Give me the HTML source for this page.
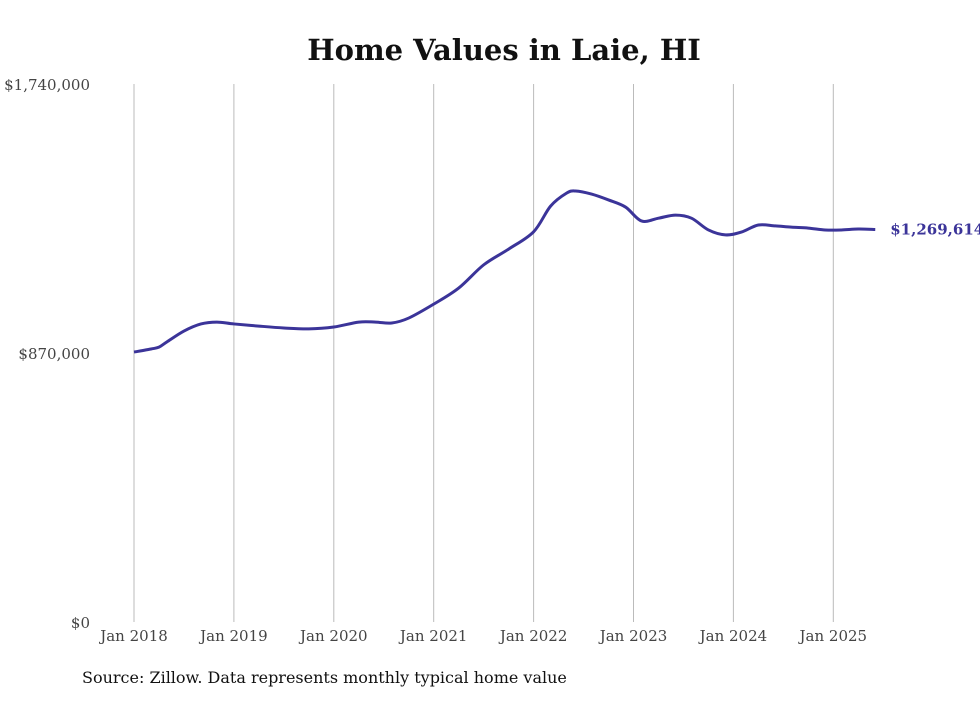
<!DOCTYPE html>
<html><head><meta charset="utf-8"><style>
body{margin:0;background:#fff;width:980px;height:699px;overflow:hidden;font-family:"DejaVu Serif","Liberation Serif",serif}
</style></head><body>
<svg width="980" height="699">
<text x="504" y="60" text-anchor="middle" font-size="29" font-weight="bold" fill="#111">Home Values in Laie, HI</text>
<g id="grid"></g><g id="ylab"></g><g id="xlab"></g>
<path id="line" fill="none" stroke="#3b3499" stroke-width="3" stroke-linejoin="round"/>
<text id="endlab" font-size="15" font-weight="bold" fill="#3b3499"></text>
<text x="82" y="683" font-size="16" fill="#111">Source: Zillow. Data represents monthly typical home value</text>
</svg>
<script>
const dates=[2018.0,2018.17,2018.25,2018.33,2018.5,2018.67,2018.83,2019.0,2019.25,2019.5,2019.75,2020.0,2020.25,2020.42,2020.58,2020.75,2021.0,2021.25,2021.5,2021.75,2022.0,2022.17,2022.33,2022.42,2022.58,2022.75,2022.92,2023.08,2023.25,2023.42,2023.58,2023.75,2023.92,2024.08,2024.25,2024.42,2024.58,2024.75,2024.92,2025.08,2025.25,2025.42];
const values=[873000,883000,889000,906000,941000,964000,970000,964000,957000,951000,948000,954000,970000,970000,967000,983000,1028000,1080000,1155000,1206000,1262000,1345000,1387000,1394000,1384000,1365000,1342000,1297000,1306000,1316000,1306000,1268000,1252000,1261000,1284000,1281000,1277000,1274000,1268000,1268000,1271000,1269614];
const yTicks=[0,870000,1740000];
const yTickLabels=["$0","$870,000","$1,740,000"];
const xTicks=[2018,2019,2020,2021,2022,2023,2024,2025];
const xTickLabels=["Jan 2018","Jan 2019","Jan 2020","Jan 2021","Jan 2022","Jan 2023","Jan 2024","Jan 2025"];
const X=d=>134+(d-2018)*99.9, Y=v=>622-v/1740000*538;
const NS="http://www.w3.org/2000/svg";
const grid=document.getElementById('grid'),xl=document.getElementById('xlab'),yl=document.getElementById('ylab');
xTicks.forEach((t,i)=>{
 const l=document.createElementNS(NS,'line');
 
 
 l.setAttribute('x1',X(t));l.setAttribute('x2',X(t));l.setAttribute('y1',84);l.setAttribute('y2',622);
 l.setAttribute('stroke','#bbb');l.setAttribute('stroke-width','1');grid.appendChild(l);
 const tx=document.createElementNS(NS,'text');
 
 
 tx.setAttribute('x',X(t));tx.setAttribute('y',641);tx.setAttribute('text-anchor','middle');
 tx.setAttribute('font-size','15');tx.setAttribute('fill','#444');tx.textContent=xTickLabels[i];xl.appendChild(tx);
});
yTicks.forEach((t,i)=>{
 const tx=document.createElementNS(NS,'text');
 
 
 tx.setAttribute('x',90);tx.setAttribute('y',Y(t)+6);tx.setAttribute('text-anchor','end');
 tx.setAttribute('font-size','15');tx.setAttribute('fill','#444');tx.textContent=yTickLabels[i];yl.appendChild(tx);
});
const pts=dates.map((d,i)=>[X(d),Y(values[i])]);
let p=`M${pts[0][0]},${pts[0][1]}`;
for(let i=0;i<pts.length-1;i++){
 const p0=pts[Math.max(0,i-1)],p1=pts[i],p2=pts[i+1],p3=pts[Math.min(pts.length-1,i+2)];
 p+=` C${p1[0]+(p2[0]-p0[0])/6},${p1[1]+(p2[1]-p0[1])/6} ${p2[0]-(p3[0]-p1[0])/6},${p2[1]-(p3[1]-p1[1])/6} ${p2[0]},${p2[1]}`;
}
document.getElementById('line').setAttribute('d',p);
const last=pts[pts.length-1],el=document.getElementById('endlab');
el.setAttribute('x',last[0]+15);el.setAttribute('y',last[1]+5);
el.textContent='$'+values[values.length-1].toLocaleString('en-US');
</script>
</body></html>
